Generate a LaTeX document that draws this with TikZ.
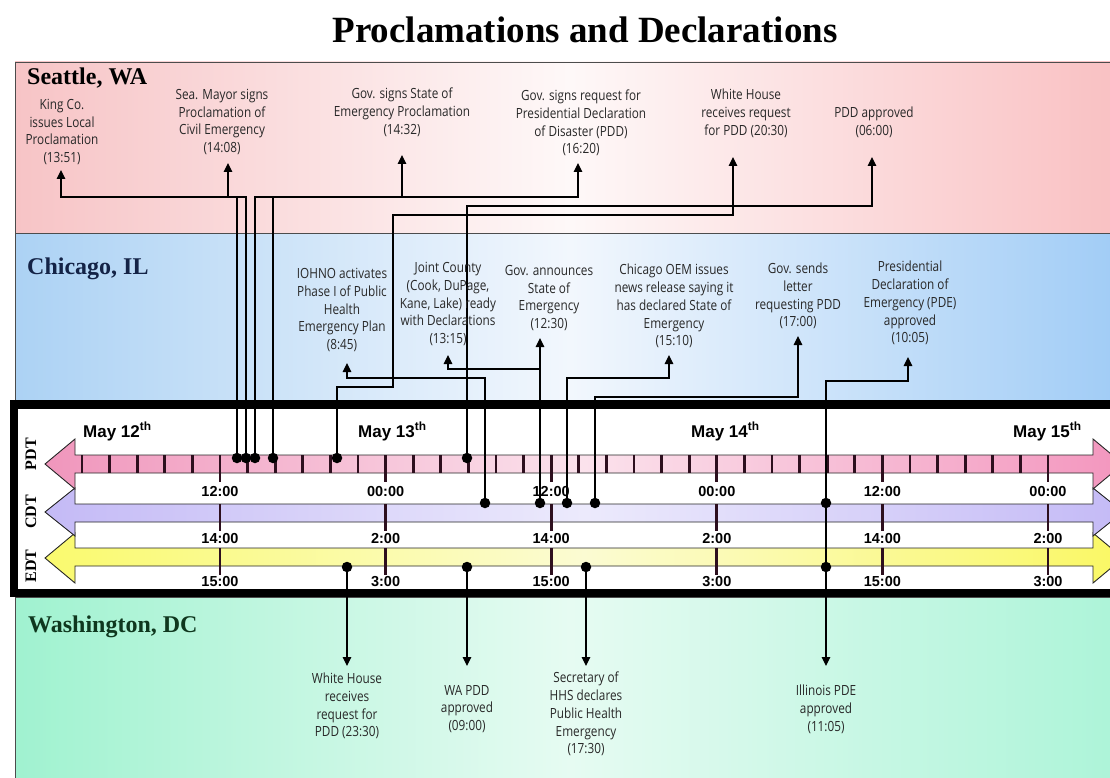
\documentclass[tikz,border=0pt]{standalone}
\usepackage{fontspec}
\setmainfont{Liberation Serif}
\newfontfamily\lblfont[FakeStretch=0.84]{Open Sans}
\newfontfamily\axfont{Liberation Sans}
\usetikzlibrary{arrows.meta}

% panel and zone colours
\definecolor{seaL}{RGB}{247,196,198}
\definecolor{seaM}{RGB}{254,248,248}
\definecolor{seaR}{RGB}{249,192,194}
\definecolor{chiL}{RGB}{172,210,244}
\definecolor{chiM}{RGB}{242,247,253}
\definecolor{chiR}{RGB}{160,204,246}
\definecolor{dcL}{RGB}{160,242,208}
\definecolor{dcM}{RGB}{230,251,242}
\definecolor{dcR}{RGB}{172,244,216}
\definecolor{pdtL}{RGB}{240,150,188}
\definecolor{pdtM}{RGB}{251,226,236}
\definecolor{pdtR}{RGB}{243,150,190}
\definecolor{cdtL}{RGB}{196,186,246}
\definecolor{cdtM}{RGB}{236,234,252}
\definecolor{cdtR}{RGB}{196,186,246}
\definecolor{edtL}{RGB}{250,250,110}
\definecolor{edtM}{RGB}{251,251,210}
\definecolor{edtR}{RGB}{250,248,100}
\definecolor{txt}{RGB}{40,40,40}
\definecolor{tickc}{RGB}{45,15,30}
\definecolor{chiT}{RGB}{20,35,70}
\definecolor{dcT}{RGB}{15,55,30}

\tikzset{
  conn/.style={line width=1.2pt, draw=black, -{Triangle[length=9pt,width=8.5pt]}},
  link/.style={line width=1.2pt, draw=black},
  dot/.style={circle, fill=black, inner sep=0pt, minimum size=10.5pt},
  evt/.style={font=\lblfont\fontsize{14}{17.8}\selectfont, text=txt, align=center, inner sep=0pt},
  city/.style={font=\fontsize{24}{28}\selectfont\bfseries, anchor=base west, inner sep=0pt},
  zone/.style={font=\fontsize{16}{18}\selectfont\bfseries, rotate=90, inner sep=0pt},
  hour/.style={font=\axfont\bfseries\fontsize{14.5}{16}\selectfont, inner sep=0pt},
  day/.style={font=\axfont\bfseries\fontsize{17}{20}\selectfont, anchor=base west, inner sep=0pt},
  tickmark/.style={line width=2.8pt, draw=tickc},
  panel/.style={draw=black!70, line width=0.8pt},
  band/.style={draw=black!85, line width=0.9pt},
}

\begin{document}
\begin{tikzpicture}[x=1pt,y=-1pt]
\useasboundingbox (0,0) rectangle (1110,778);
\clip (0,0) rectangle (1110,778);
\fill[white] (0,0) rectangle (1110,778);

% title
\node[font=\fontsize{37}{40}\selectfont\bfseries, anchor=base, inner sep=0pt] (title) at (585,43) {Proclamations and Declarations};

% city panels (middle colour is given last so that it is kept)
\path[panel, left color=seaL, right color=seaR, middle color=seaM] (15,62) rectangle (1125,233);
\path[panel, left color=chiL, right color=chiR, middle color=chiM] (15,233) rectangle (1125,401);
\path[panel, left color=dcL, right color=dcR, middle color=dcM] (15,597) rectangle (1125,790);
\node[city] (sea) at (27,85) {Seattle, WA};
\node[city, text=chiT] (chi) at (27,274) {Chicago, IL};
\node[city, text=dcT] (dc) at (28,632) {Washington, DC};

% timeline frame
\fill[white] (14,404) rectangle (1125,593);

% time-zone arrows
\path[band, left color=edtL, right color=edtR, middle color=edtM]
  (45,558) -- (75,533) -- (75,548) -- (1093,548) -- (1093,533) -- (1123,558)
  -- (1093,583) -- (1093,566) -- (75,566) -- (75,583) -- cycle;
\path[band, left color=cdtL, right color=cdtR, middle color=cdtM]
  (45,512) -- (75,488) -- (75,504) -- (1093,504) -- (1093,488) -- (1123,512)
  -- (1093,536) -- (1093,522) -- (75,522) -- (75,536) -- cycle;
\path[band, left color=pdtL, right color=pdtR, middle color=pdtM]
  (45,464) -- (75,439) -- (75,455) -- (1093,455) -- (1093,439) -- (1123,464)
  -- (1093,489) -- (1093,473) -- (75,473) -- (75,489) -- cycle;

\node[zone] (zpdt) at (31,454) {PDT};
\node[zone] (zcdt) at (31,512) {CDT};
\node[zone] (zedt) at (31,566) {EDT};

% two-hour ticks on the PDT scale
\foreach \k in {0,...,35}
  \draw[tickmark] ({82+27.6*\k},455) -- ({82+27.6*\k},473);

% twelve-hour marks with the clock time in each zone
\foreach \x/\p/\c/\e [count=\i] in {220/12:00/14:00/15:00, 385.6/00:00/2:00/3:00,
    551.2/12:00/14:00/15:00, 716.8/00:00/2:00/3:00, 882.4/12:00/14:00/15:00,
    1048/00:00/2:00/3:00} {
  \draw[tickmark] (\x,455) -- (\x,482);
  \draw[tickmark] (\x,504) -- (\x,531);
  \draw[tickmark] (\x,548) -- (\x,575);
  \node[hour] (hp\i) at (\x,492) {\p};
  \node[hour] (hc\i) at (\x,539) {\c};
  \node[hour] (he\i) at (\x,582) {\e};
}

\node[day] (may12) at (83,437) {May 12\textsuperscript{th}};
\node[day] (may13) at (358,437) {May 13\textsuperscript{th}};
\node[day] (may14) at (691,437) {May 14\textsuperscript{th}};
\node[day] (may15) at (1013,437) {May 15\textsuperscript{th}};

\draw[line width=8.5pt] (14,404.5) rectangle (1125,593);

% ---- Seattle events ----
\node[evt] (l-king)   at (62,132)  {King Co.\\issues Local\\Proclamation\\(13:51)};
\node[evt] (l-mayor)  at (222,122) {Sea. Mayor signs\\Proclamation of\\Civil Emergency\\(14:08)};
\node[evt] (l-gsoe)   at (402,112) {Gov. signs State of\\Emergency Proclamation\\(14:32)};
\node[evt] (l-greq)   at (581,123) {Gov. signs request for\\Presidential Declaration\\of Disaster (PDD)\\(16:20)};
\node[evt] (l-whreq)  at (746,113) {White House\\receives request\\for PDD (20:30)};
\node[evt] (l-pdd)    at (874,122) {PDD approved\\(06:00)};

\coordinate (t-king) at (61,170);   \coordinate (b-king) at (61,197);
\coordinate (t-mayor) at (228,163); \coordinate (b-mayor) at (228,197);
\coordinate (t-gsoe) at (402,155);  \coordinate (b-gsoe) at (402,197);
\coordinate (t-greq) at (578,163);  \coordinate (b-greq) at (578,197);
\coordinate (t-whreq) at (733,157); \coordinate (b-whreq1) at (393,387); \coordinate (b-whreq2) at (733,215);
\coordinate (t-pdd) at (872,157);   \coordinate (b-pdd) at (872,206);

\node[dot] (d-king)  at (237,458) {};
\node[dot] (d-mayor) at (246,458) {};
\node[dot] (d-gsoe)  at (255,458) {};
\node[dot] (d-greq)  at (273,458) {};
\node[dot] (d-whreq) at (337,458) {};
\node[dot] (d-pdd)   at (467,458) {};

\draw[conn] (d-king) |- (b-king) -- (t-king);
\draw[conn] (d-mayor) |- (b-mayor) -- (t-mayor);
\draw[conn] (d-gsoe) |- (b-gsoe) -- (t-gsoe);
\draw[conn] (d-greq) |- (b-greq) -- (t-greq);
\draw[conn] (d-whreq) |- (b-whreq1) |- (b-whreq2) -- (t-whreq);
\draw[conn] (d-pdd) |- (b-pdd) -- (t-pdd);

% ---- Chicago events ----
\node[evt] (l-iohno)  at (342,310) {IOHNO activates\\Phase I of Public\\Health\\Emergency Plan\\(8:45)};
\node[evt] (l-joint)  at (448,304) {Joint County\\(Cook, DuPage,\\Kane, Lake) ready\\with Declarations\\(13:15)};
\node[evt] (l-gov12)  at (549,298) {Gov. announces\\State of\\Emergency\\(12:30)};
\node[evt] (l-oem)    at (674,306) {Chicago OEM issues\\news release saying it\\has declared State of\\Emergency\\(15:10)};
\node[evt] (l-letter) at (798,296) {Gov. sends\\letter\\requesting PDD\\(17:00)};
\node[evt] (l-pde)    at (910,303) {Presidential\\Declaration of\\Emergency (PDE)\\approved\\(10:05)};

\coordinate (t-iohno) at (347,363);  \coordinate (b-iohno) at (347,378);
\coordinate (t-joint) at (448,355);  \coordinate (b-joint) at (448,369);
\coordinate (t-gov12) at (540,338);
\coordinate (t-oem) at (669,355);    \coordinate (b-oem) at (669,378);
\coordinate (t-letter) at (798,336); \coordinate (b-letter) at (798,397);
\coordinate (t-pde) at (908,357);    \coordinate (b-pde) at (908,381);

\node[dot] (d-iohno)  at (485,503) {};
\node[dot] (d-gov12)  at (540,503) {};
\node[dot] (d-oem)    at (567,503) {};
\node[dot] (d-letter) at (595,503) {};
\node[dot] (d-pde)    at (826,503) {};

\draw[conn] (d-iohno) |- (b-iohno) -- (t-iohno);
\draw[conn] (d-gov12) |- (b-joint) -- (t-joint);
\draw[conn] (d-gov12) -- (t-gov12);
\draw[conn] (d-oem) |- (b-oem) -- (t-oem);
\draw[conn] (d-letter) |- (b-letter) -- (t-letter);
\draw[conn] (d-pde) |- (b-pde) -- (t-pde);

% ---- Washington events ----
\node[evt] (l-wwh)   at (347,706) {White House\\receives\\request for\\PDD (23:30)};
\node[evt] (l-wapdd) at (467,709) {WA PDD\\approved\\(09:00)};
\node[evt] (l-hhs)   at (586,714) {Secretary of\\HHS declares\\Public Health\\Emergency\\(17:30)};
\node[evt] (l-ill)   at (826,709) {Illinois PDE\\approved\\(11:05)};

\coordinate (t-wwh) at (347,666);
\coordinate (t-wapdd) at (467,666);
\coordinate (t-hhs) at (586,666);
\coordinate (t-ill) at (826,666);

\node[dot] (e-wh)    at (347,567) {};
\node[dot] (e-wapdd) at (467,567) {};
\node[dot] (e-hhs)   at (586,567) {};
\node[dot] (e-ill)   at (826,567) {};

\draw[link] (d-pde) -- (e-ill);
\draw[conn] (e-wh) -- (t-wwh);
\draw[conn] (e-wapdd) -- (t-wapdd);
\draw[conn] (e-hhs) -- (t-hhs);
\draw[conn] (e-ill) -- (t-ill);
\end{tikzpicture}
\end{document}
